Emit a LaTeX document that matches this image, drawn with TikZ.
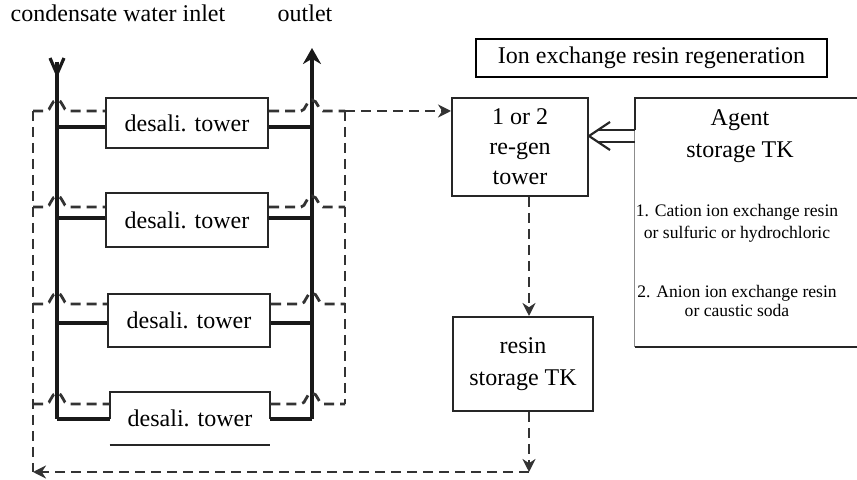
\documentclass[tikz,border=0pt]{standalone}
\usepackage{fontspec}
\setmainfont{Liberation Serif}
\usetikzlibrary{arrows.meta,calc}
\begin{document}
\begin{tikzpicture}[x=0.5pt,y=-0.5pt,
  box/.style={draw=black!85, line width=1pt, rectangle, inner sep=0pt, align=center, font=\fontsize{12}{15}\selectfont},
  pipe/.style={line width=1.6pt, black!90},
  flow/.style={line width=1.4pt, black!80, dash pattern=on 5pt off 3pt},
  lbl/.style={inner sep=0pt, font=\fontsize{12}{14}\selectfont},
  small/.style={inner sep=0pt, font=\fontsize{8.8}{10}\selectfont},
  tip/.style={-{Stealth[length=6.5pt,width=6.5pt]}}]
\useasboundingbox (0,0) rectangle (857,480);

% top labels
\node[lbl] (lin) at (118,13) {condensate water inlet};
\node[lbl] (lout) at (305,13) {outlet};

% desalination towers
\node[box, minimum width=81pt, minimum height=25pt] (t1) at (187,123) {desali. tower};
\node[box, minimum width=81pt, minimum height=27pt] (t2) at (187,220) {desali. tower};
\node[box, minimum width=81pt, minimum height=26.5pt] (t3) at (189,320.5) {desali. tower};
\node[inner sep=0pt, minimum width=80pt, minimum height=26.5pt, font=\fontsize{12}{15}\selectfont] (t4) at (190,418.5) {desali. tower};

% main inlet / outlet lines
\coordinate (inTop) at (57,62);
\coordinate (outTop) at (312,48);
\foreach \i/\p/\d in {1/127/111, 2/218/207, 3/323/304, 4/419/404} {
  \coordinate (pl\i) at (57,\p);
  \coordinate (pr\i) at (312,\p);
  \coordinate (dl\i) at (33,\d);
  \coordinate (dr\i) at (345,\d);
}
\draw[line width=1pt, black!85] (t4.west |- pr4) -- (t4.north west) -- (t4.north east) -- (t4.east |- pr4);
\draw[line width=1pt, black!85] (t4.south west) -- (t4.south east);

\draw[pipe] (inTop) -- (pl4);
\draw[pipe, -{Straight Barb[length=8pt,width=7pt]}] (inTop) -- ++(0,16);
\draw[pipe, -{Stealth[length=8pt,width=9pt]}] (pr4) -- (outTop);

\foreach \i/\d in {1/111, 2/207, 3/304, 4/404} {
  \draw[pipe] (pl\i) -- (pl\i -| t\i.west);
  \draw[pipe] (pr\i) -- (pr\i -| t\i.east);
  \draw[flow] (dl\i) -- (46,\d) .. controls (51,\d) and (51,\d-11) .. (57,\d-11)
     .. controls (63,\d-11) and (63,\d) .. (68,\d) -- (dl\i -| t\i.west);
  \draw[flow] (dl\i -| t\i.east) -- (301,\d) .. controls (306,\d) and (306,\d-11) .. (312,\d-11)
     .. controls (318,\d-11) and (318,\d) .. (323,\d) -- (dr\i);
}

% regeneration part
\node[box, line width=0.7pt, draw=black, minimum width=175.5pt, minimum height=19pt] (hdr) at (651.5,58) {Ion exchange resin regeneration};
\node[box, minimum width=68pt, minimum height=49pt] (regen) at (520,147) {1 or 2\\re-gen\\tower};
\node[box, minimum width=70pt, minimum height=47pt, font=\fontsize{12}{16}\selectfont] (resin) at (523,364) {resin\\storage TK};

% dashed return loop
\coordinate (bl) at (33,472);
\coordinate (vx) at (529,0);
\coordinate (br) at (529,472);
\draw[flow] (dl1) -- (bl);
\draw[flow] (dr1) -- (dr4);
\draw[flow, tip] (dr1) -- (dr1 -| regen.west);
\draw[flow, tip] (regen.south -| vx) -- (resin.north -| vx);
\draw[flow, tip] (resin.south -| vx) -- (br);
\draw[flow, tip] (br) -- (bl);

% agent storage tank
\node[inner sep=0pt, minimum width=111pt, minimum height=124.5pt] (agent) at (746,222.5) {};
\draw[line width=1pt, black!85] (agent.north east) -- (agent.north west) -- ++(0,32);
\draw[line width=0.8pt, black!45] (agent.north west) ++(0,32) -- (agent.south west);
\draw[line width=1pt, black!85] (agent.south west) -- (agent.south east);
\node[lbl] (ag1) at (740,120) {Agent};
\node[lbl] (ag2) at (740,152) {storage TK};
\node[small] (ag3) at (737,212) {1. Cation ion exchange resin};
\node[small] (ag4) at (737,234) {or sulfuric or hydrochloric};
\node[small] (ag5) at (737,293) {2. Anion ion exchange resin};
\node[small] (ag6) at (737,310) {or caustic soda};

% hollow (double) arrow from agent tank to regen tower
\coordinate (hs) at (agent.west |- 0,136);
\coordinate (ht) at (regen.east |- hs);
\draw[line width=1.1pt, black!85] ($(hs)+(0,-6)$) -- ($(ht)+(10,-6)$);
\draw[line width=1.1pt, black!85] ($(hs)+(0,6)$) -- ($(ht)+(10,6)$);
\draw[line width=1.1pt, black!85] ($(ht)+(21,-14)$) -- (ht) -- ($(ht)+(21,14)$);
\end{tikzpicture}
\end{document}
